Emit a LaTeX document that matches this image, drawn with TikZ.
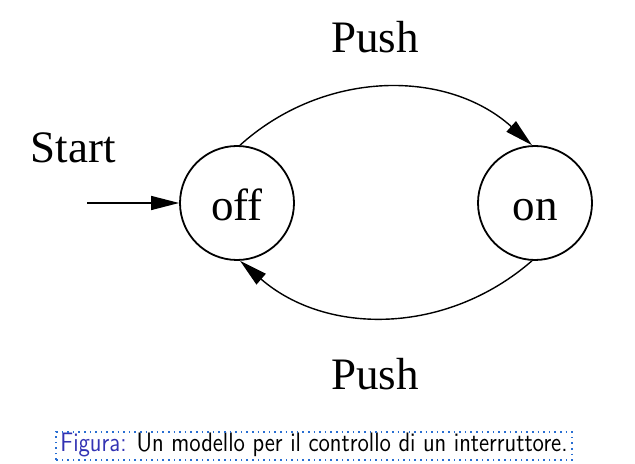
\documentclass[tikz,border=0pt]{standalone}
\usepackage{fontspec}
\setmainfont{Liberation Serif}
\usetikzlibrary{arrows.meta}
\definecolor{figblue}{RGB}{51,51,179}
\definecolor{boxblue}{RGB}{40,110,210}
\tikzset{
    state/.style={draw, circle, line width=0.9pt, minimum size=57pt, inner sep=0pt,
        text height=18pt, text depth=0pt, font=\fontsize{22.5}{26}\selectfont},
    lbl/.style={anchor=base, font=\fontsize{22.5}{26}\selectfont},
    edge/.style={line width=0.7pt, -{Triangle[length=14pt, width=7pt]}}
}
\begin{document}
\begin{tikzpicture}[x=0.5pt, y=0.5pt]
        \useasboundingbox (0,0) rectangle (635,464);

        \node[state] (off) at (237,261) {off};
        \node[state] (on) at (535,261) {on};

        \coordinate (in) at (87,261);
        \node[lbl] (start) at (73,301) {Start};
        \draw[edge] (in) -- (off);

        \node[lbl] (pushtop) at (375,411) {Push};
        \node[lbl] (pushbot) at (375,74) {Push};
        \draw[edge] (off.87) to[bend left=42] (on.93);
        \draw[edge] (on.-93) to[bend left=41] (off.-87);

        \node[anchor=base, yscale=1.15, transform shape, font=\sffamily\fontsize{11.6}{14}\selectfont, inner sep=0pt] (caption) at (314,12) {\textcolor{figblue}{Figura:} Un modello per il controllo di un interruttore.};
        \draw[boxblue, dotted, line width=0.8pt] (56,4) rectangle (572,32);
    \end{tikzpicture}
\end{document}
